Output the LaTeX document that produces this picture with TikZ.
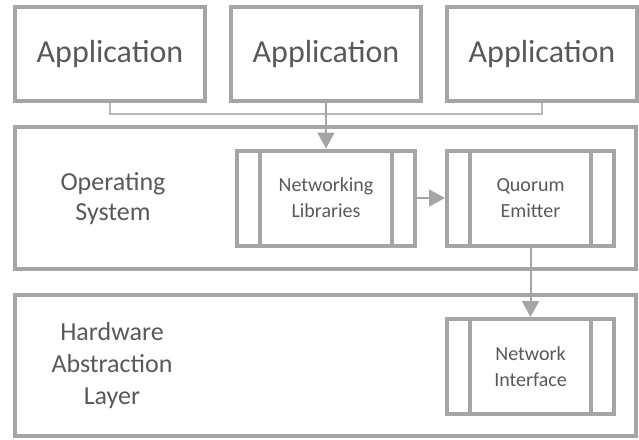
\documentclass[tikz,border=0pt]{standalone}
\usepackage{fontspec}
\setmainfont{Carlito}
\usetikzlibrary{arrows.meta, positioning}
\definecolor{stackgray}{HTML}{A5A5A5}
\definecolor{stacktext}{HTML}{595959}

\begin{document}
\begin{tikzpicture}[
        x=1pt, y=-1pt,
        every node/.style={text=stacktext, inner sep=0pt},
        appbox/.style={rectangle, draw=stackgray, line width=4pt, minimum width=190pt, minimum height=94pt, font=\fontsize{32}{38}\selectfont},
        layerbox/.style={rectangle, draw=stackgray, line width=4pt, minimum width=621pt},
        layerlabel/.style={align=center, font=\fontsize{26}{30}\selectfont},
        modbox/.style={rectangle, draw=stackgray, line width=4pt, minimum height=95pt, align=center, font=\fontsize{20}{26}\selectfont,
            path picture={\draw[stackgray, line width=4pt]
                ([xshift=23pt]path picture bounding box.north west) -- ([xshift=23pt]path picture bounding box.south west)
                ([xshift=-23pt]path picture bounding box.north east) -- ([xshift=-23pt]path picture bounding box.south east);}},
        arrow/.style={-{Triangle[length=16pt, width=17pt]}, line width=2pt, stackgray},
        link/.style={line width=2pt, stackgray!80}
    ]
    \useasboundingbox (0,0) rectangle (639,439);

    % applications on top
    \node[appbox] (app1) at (110,54) {Application};
    \node[appbox, right=22pt of app1] (app2) {Application};
    \node[appbox, right=22pt of app2] (app3) {Application};

    % operating system layer
    \node[layerbox, minimum height=142pt] (os) at (325.5,198) {};
    \node[layerlabel] (oslabel) at (113,199) {Operating\\System};
    \node[modbox, minimum width=178pt] (netlib) at (326,198) {Networking\\Libraries};
    \node[modbox, minimum width=167pt] (quorum) at (530.5,198) {Quorum\\Emitter};

    % hardware abstraction layer
    \node[layerbox, minimum height=141pt] (hal) at (325.5,365) {};
    \node[layerlabel, font=\fontsize{26}{32}\selectfont] (hallabel) at (112,366) {Hardware\\Abstraction\\Layer};
    \node[modbox, minimum width=167pt, below=69.5pt of quorum] (netif) {Network\\Interface};

    \draw[link] (app1.south) -- ++(0,11) -| (app3.south);
    \draw[arrow] (app2.south) -- (netlib.north);
    \draw[arrow] (netlib.east) -- (quorum.west);
    \draw[arrow] (quorum.south) -- (netif.north);

\end{tikzpicture}
\end{document}
